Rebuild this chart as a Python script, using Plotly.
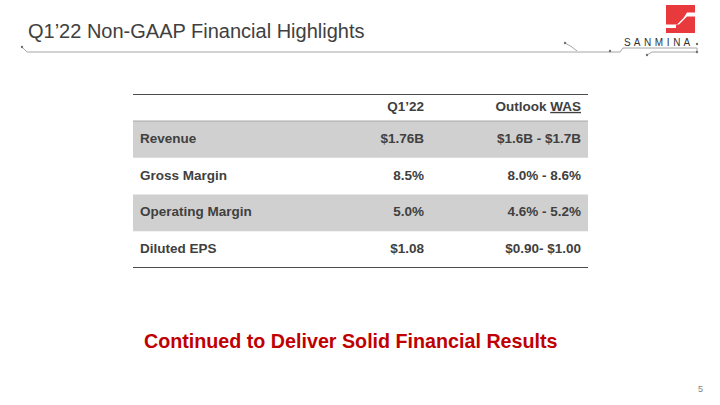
import plotly.graph_objects as go

# ---- data ----
row_labels = ["Revenue", "Gross Margin", "Operating Margin", "Diluted EPS"]
q1_22 = ["$1.76B", "8.5%", "5.0%", "$1.08"]
outlook = ["$1.6B - $1.7B", "8.0% - 8.6%", "4.6% - 5.2%", "$0.90- $1.00"]
col_headers = ["Q1\u201922", "Outlook <u>WAS</u>"]
title = "Q1\u201922 Non-GAAP Financial Highlights"
tagline = "Continued to Deliver Solid Financial Results"
page_no = "5"
brand = "SANMINA"

W, H = 720, 405
FONT = "Liberation Sans, Arial"
TXT = "#404040"
TSIZE = 13.5

# table geometry (pixels)
T_LEFT, T_RIGHT, T_TOP, T_BOT = 133, 588, 94, 268
HEAD_H = 27
ROW_H = (T_BOT - T_TOP - HEAD_H) / len(row_labels)
X_LABEL, X_Q1, X_OUT = 7, 291, 448

def px(x):
    return x / W

def py(y):
    return 1 - y / H

fig = go.Figure()

row_y = [T_TOP + HEAD_H + (i + 0.5) * ROW_H for i in range(len(row_labels))]
head_y = T_TOP + HEAD_H / 2
tf = dict(family=FONT, size=TSIZE, color=TXT)

fig.add_trace(go.Scatter(x=[X_LABEL] * len(row_labels), y=row_y, text=[f"<b>{t}</b>" for t in row_labels],
                         mode="text", textposition="middle right", textfont=tf, hoverinfo="skip"))
fig.add_trace(go.Scatter(x=[X_Q1] * len(q1_22), y=row_y, text=[f"<b>{t}</b>" for t in q1_22],
                         mode="text", textposition="middle left", textfont=tf, hoverinfo="skip"))
fig.add_trace(go.Scatter(x=[X_OUT] * len(outlook), y=row_y, text=[f"<b>{t}</b>" for t in outlook],
                         mode="text", textposition="middle left", textfont=tf, hoverinfo="skip"))
fig.add_trace(go.Scatter(x=[X_Q1, X_OUT], y=[head_y, head_y], text=[f"<b>{t}</b>" for t in col_headers],
                         mode="text", textposition="middle left", textfont=tf, hoverinfo="skip"))

shapes = []
for i in range(len(row_labels)):
    if i % 2 == 0:
        y0 = T_TOP + HEAD_H + i * ROW_H
        shapes.append(dict(type="rect", xref="x", yref="y", x0=0, x1=T_RIGHT - T_LEFT,
                           y0=y0, y1=y0 + ROW_H, fillcolor="#d0d0d0", line=dict(width=0), layer="below"))
shapes.append(dict(type="line", xref="x", yref="y", x0=0, x1=T_RIGHT - T_LEFT, y0=T_TOP + HEAD_H,
                   y1=T_TOP + HEAD_H, line=dict(color="#a8a8a8", width=1)))
shapes.append(dict(type="line", xref="x", yref="y", x0=0, x1=T_RIGHT - T_LEFT, y0=T_TOP, y1=T_TOP,
                   line=dict(color="#111111", width=1.5)))
shapes.append(dict(type="line", xref="x", yref="y", x0=0, x1=T_RIGHT - T_LEFT, y0=T_BOT, y1=T_BOT,
                   line=dict(color="#111111", width=1.5)))

def path(pts):
    return "M " + " L ".join(f"{px(x):.5f},{py(y):.5f}" for x, y in pts)

LINE = "#a6a6a6"
for pts in [
    [(22, 47), (27, 52), (610, 52)],
    [(565, 43), (572, 47), (577, 51)],
    [(610, 52), (620, 52), (623, 48), (697, 48), (697, 52)],
    [(647, 55), (652, 52), (697, 52)],
]:
    shapes.append(dict(type="path", xref="paper", yref="paper", path=path(pts),
                       line=dict(color=LINE, width=1)))
for (x, y) in [(22, 47), (565, 43), (610, 51), (647, 55), (697, 52), (697, 44)]:
    shapes.append(dict(type="circle", xref="paper", yref="paper", x0=px(x - 1.2), x1=px(x + 1.2),
                       y0=py(y + 1.2), y1=py(y - 1.2), fillcolor="#707070", line=dict(width=0)))

# logo
shapes.append(dict(type="rect", xref="paper", yref="paper", x0=px(666), x1=px(695), y0=py(33), y1=py(5),
                   fillcolor="#e8393c", line=dict(width=0)))
shapes.append(dict(type="path", xref="paper", yref="paper",
                   path=path([(695, 12.5), (695, 16.5), (687, 16.5), (679, 24.5), (666, 24.5), (666, 28),
                              (676, 28), (676, 25.5), (683.5, 18), (687, 12.5)]) + " Z",
                   fillcolor="white", line=dict(width=0)))

annotations = [
    dict(text=title, x=px(26), y=py(31), xref="paper", yref="paper", xanchor="left", yanchor="middle",
         showarrow=False, font=dict(family=FONT, size=20, color=TXT)),
    dict(text="\u200a ".join(brand), x=px(656.5), y=py(42), xref="paper", yref="paper", xanchor="center",
         yanchor="middle", showarrow=False, font=dict(family=FONT, size=10, color="#333333")),
    dict(text=f"<b>{tagline}</b>", x=px(351), y=py(341), xref="paper", yref="paper", xanchor="center",
         yanchor="middle", showarrow=False, font=dict(family=FONT, size=19.7, color="#c00000")),
    dict(text=page_no, x=px(700), y=py(389), xref="paper", yref="paper", xanchor="center",
         yanchor="middle", showarrow=False, font=dict(family=FONT, size=9, color="#808080")),
]

fig.update_layout(
    width=W, height=H, margin=dict(l=0, r=0, t=0, b=0),
    paper_bgcolor="white", plot_bgcolor="rgba(0,0,0,0)", showlegend=False,
    xaxis=dict(domain=[px(T_LEFT), px(T_RIGHT)], range=[0, T_RIGHT - T_LEFT], visible=False, fixedrange=True),
    yaxis=dict(domain=[py(T_BOT), py(T_TOP)], range=[T_BOT, T_TOP], visible=False, fixedrange=True),
    shapes=shapes, annotations=annotations,
)

fig.write_html("out.html", config={"displayModeBar": False},
               post_script="document.body.style.margin='0';document.body.style.overflow='hidden';")
